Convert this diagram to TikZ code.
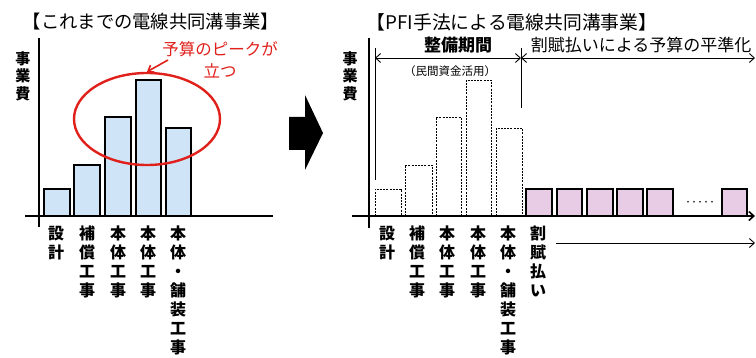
\documentclass[tikz,border=0pt]{standalone}
\usepackage{fontspec}
\setmainfont{Noto Sans CJK JP}
\usetikzlibrary{arrows.meta,shapes.geometric}
\definecolor{barblue}{HTML}{CFE5F7}
\definecolor{barpink}{HTML}{E8CCE5}
\definecolor{peakred}{HTML}{E0201B}
\newcommand\mytightlines{\lineskiplimit=-100pt\relax\lineskip=0pt\relax}
\tikzset{
  axisline/.style={line width=1.6pt},
  bluebar/.style={draw, line width=1.2pt, fill=barblue},
  dashbar/.style={draw, line width=0.8pt, dash pattern=on 2pt off 1.2pt},
  pinkbar/.style={draw, line width=1.2pt, fill=barpink},
  vlabel/.style={anchor=north, align=center, inner sep=0pt, font=\bfseries\fontsize{16}{19}\selectfont\mytightlines},
  ylabel/.style={align=center, inner sep=0pt, font=\bfseries\fontsize{15}{17.5}\selectfont\mytightlines},
  titletext/.style={inner sep=0pt, font=\fontsize{18.3}{20}\selectfont},
  headtext/.style={inner sep=0pt, font=\fontsize{17}{20}\selectfont},
  dimline/.style={line width=0.9pt},
  barb/.style={line width=0.9pt, -{Straight Barb[length=5pt,width=9pt]}},
}
\begin{document}
\begin{tikzpicture}[x=1pt,y=-1pt]
\useasboundingbox (0,0) rectangle (756,358);

% ---------- left panel ----------
\node[titletext] (t1) at (151,22) {【これまでの電線共同溝事業】};
\node[ylabel] (yl1) at (23,76) {事\\業\\費};

\draw[bluebar] (44,216) rectangle (70,189);
\draw[bluebar] (74,216) rectangle (100,165);
\draw[bluebar] (105,216) rectangle (131,117);
\draw[bluebar] (136,216) rectangle (161,80);
\draw[bluebar] (166,216) rectangle (191,128);

\coordinate (ly0) at (39,38);
\coordinate (ly1) at (39,227);
\coordinate (lx0) at (25,216);
\coordinate (lx1) at (273,216);
\draw[axisline] (ly0) -- (ly1);
\draw[axisline] (lx0) -- (lx1);

\node[vlabel] (l1) at (56,226) {設\\計};
\node[vlabel] (l2) at (87,226) {補\\償\\工\\事};
\node[vlabel] (l3) at (118,226) {本\\体\\工\\事};
\node[vlabel] (l4) at (148,226) {本\\体\\工\\事};
\node[vlabel] (l5) at (178,226) {本\\体\\・\\舗\\装\\工\\事};

\node[ellipse, draw=peakred, line width=2.4pt, minimum width=146pt, minimum height=92pt, inner sep=0pt] (peak) at (147,119) {};
\node[inner sep=0pt, align=center, text=peakred, font=\fontsize{16.5}{22}\selectfont\mytightlines] (peaktxt) at (220,60) {予算のピークが\\立つ};
\coordinate (pkstart) at (168,60);
\draw[peakred, line width=1.6pt, -{Straight Barb[length=5pt,width=8pt]}] (pkstart) -- (peak.north);

% ---------- big arrow ----------
\fill[black] (289,117) -- (305,117) -- (305,95) -- (323,133) -- (305,170) -- (305,150) -- (289,150) -- cycle;

% ---------- right panel ----------
\node[titletext, font=\fontsize{18.8}{20}\selectfont] (t2) at (512,22) {【PFI手法による電線共同溝事業】};
\node[ylabel] (yl2) at (350,76) {事\\業\\費};

\draw[dashbar] (375,216) rectangle (401,189);
\draw[dashbar] (405,216) rectangle (432,165);
\draw[dashbar] (436,216) rectangle (461,117);
\draw[dashbar] (466,216) rectangle (491,80);
\draw[dashbar] (496,216) rectangle (522,128);

\foreach \xa/\xb in {526/552, 557/582, 587/613, 617/643, 647/673, 722/747}
  \draw[pinkbar] (\xa,216) rectangle (\xb,189);
\node[inner sep=0pt, font=\bfseries\fontsize{6}{6}\selectfont] (dots) at (700,203) {・・・・・};

\coordinate (ry0) at (369,38);
\coordinate (ry1) at (369,228);
\coordinate (rx0) at (352,216);
\coordinate (rx1) at (755,216);
\draw[axisline] (ry0) -- (ry1);
\draw[axisline, -{Straight Barb[length=5pt,width=9pt]}] (rx0) -- (rx1);

% period markers
\coordinate (vL0) at (375,48);
\coordinate (vL1) at (375,180);
\coordinate (vM0) at (521,48);
\coordinate (vM1) at (521,108);
\draw[dimline] (vL0) -- (vL1);
\draw[dimline] (vM0) -- (vM1);
\coordinate (aL) at (375,58);
\coordinate (aM) at (521,58);
\coordinate (aR) at (755,58);
\draw[dimline, {Straight Barb[length=5pt,width=9pt]}-{Straight Barb[length=5pt,width=9pt]}] (aL) -- (aM);
\draw[dimline, {Straight Barb[length=5pt,width=9pt]}-{Straight Barb[length=5pt,width=9pt]}] (aM) -- (aR);

\node[headtext, font=\bfseries\fontsize{17}{20}\selectfont] (h1) at (458,45) {整備期間};
\node[inner sep=0pt, font=\fontsize{11.5}{14}\selectfont] (h1b) at (450,71) {（民間資金活用）};
\node[headtext] (h2) at (641,45) {割賦払いによる予算の平準化};

\node[vlabel] (r1) at (387,226) {設\\計};
\node[vlabel] (r2) at (417,226) {補\\償\\工\\事};
\node[vlabel] (r3) at (447,226) {本\\体\\工\\事};
\node[vlabel] (r4) at (478,226) {本\\体\\工\\事};
\node[vlabel] (r5) at (508,226) {本\\体\\・\\舗\\装\\工\\事};
\node[vlabel] (r6) at (538,226) {割\\賦\\払\\い};

\coordinate (pay0) at (556,243);
\coordinate (pay1) at (755,243);
\draw[barb] (pay0) -- (pay1);
\end{tikzpicture}
\end{document}
